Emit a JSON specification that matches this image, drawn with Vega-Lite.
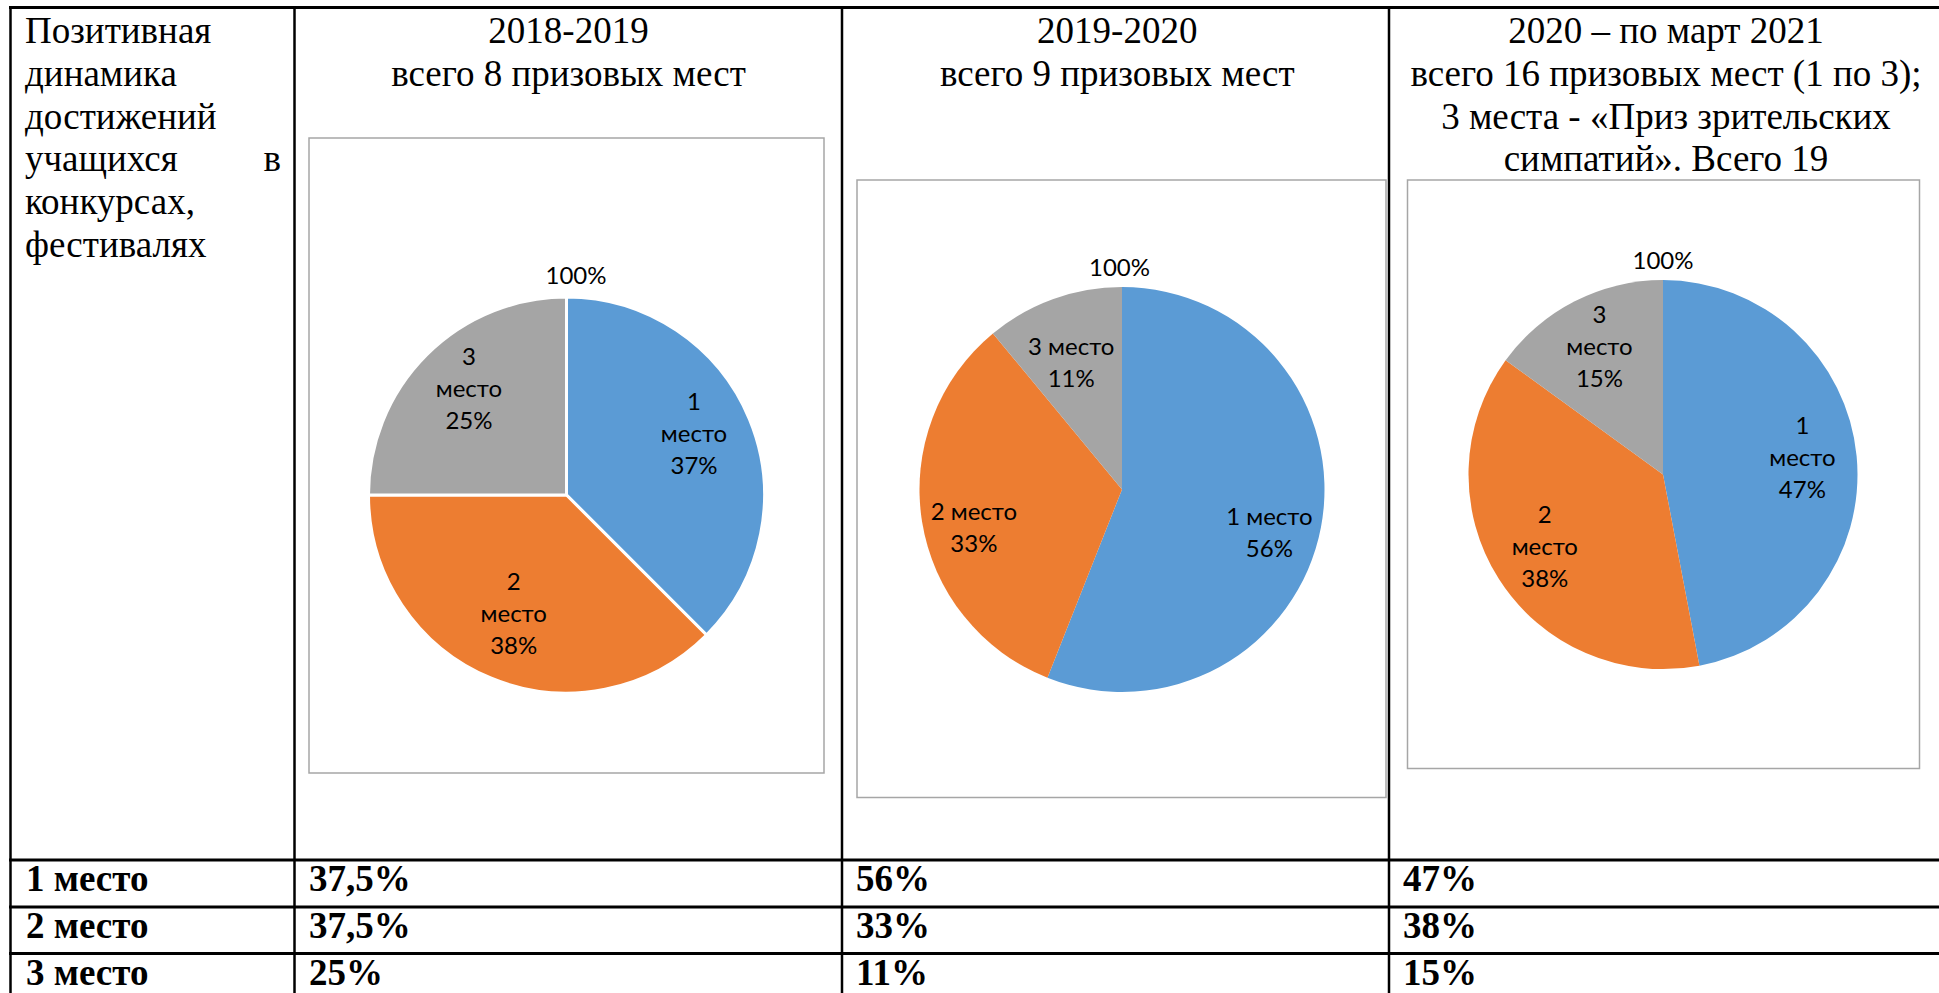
{
  "$schema": "https://vega.github.io/schema/vega-lite/v6.json",
  "width": 1939,
  "height": 993,
  "autosize": {"type": "fit", "contains": "padding"},
  "padding": 0,
  "background": "white",
  "config": {"view": {"stroke": null}},
  "datasets": {
    "pies": [
      {"period": "2018-2019", "place": "1 место", "share": 37.5, "label": "1\nместо\n37%"},
      {"period": "2018-2019", "place": "2 место", "share": 37.5, "label": "2\nместо\n38%"},
      {"period": "2018-2019", "place": "3 место", "share": 25, "label": "3\nместо\n25%"},
      {"period": "2019-2020", "place": "1 место", "share": 56, "label": "1 место\n56%"},
      {"period": "2019-2020", "place": "2 место", "share": 33, "label": "2 место\n33%"},
      {"period": "2019-2020", "place": "3 место", "share": 11, "label": "3 место\n11%"},
      {"period": "2020-2021", "place": "1 место", "share": 47, "label": "1\nместо\n47%"},
      {"period": "2020-2021", "place": "2 место", "share": 38, "label": "2\nместо\n38%"},
      {"period": "2020-2021", "place": "3 место", "share": 15, "label": "3\nместо\n15%"}
    ],
    "totals": [
      {"period": "2018-2019", "label": "100%"},
      {"period": "2019-2020", "label": "100%"},
      {"period": "2020-2021", "label": "100%"}
    ],
    "header": [
      {"col": "left", "line": 1, "text": "Позитивная"},
      {"col": "left", "line": 2, "text": "динамика"},
      {"col": "left", "line": 3, "text": "достижений"},
      {"col": "left", "line": 4, "text": "учащихся"},
      {"col": "right", "line": 4, "text": "в"},
      {"col": "left", "line": 5, "text": "конкурсах,"},
      {"col": "left", "line": 6, "text": "фестивалях"},
      {"col": "2018-2019", "line": 1, "text": "2018-2019"},
      {"col": "2018-2019", "line": 2, "text": "всего 8 призовых мест"},
      {"col": "2019-2020", "line": 1, "text": "2019-2020"},
      {"col": "2019-2020", "line": 2, "text": "всего 9 призовых мест"},
      {"col": "2020-2021", "line": 1, "text": "2020 – по март 2021"},
      {"col": "2020-2021", "line": 2, "text": "всего 16 призовых мест (1 по 3);"},
      {"col": "2020-2021", "line": 3, "text": "3 места - «Приз зрительских"},
      {"col": "2020-2021", "line": 4, "text": "симпатий». Всего 19"}
    ],
    "table": [
      {"period": "2018-2019", "place": "1 место", "value": "37,5%"},
      {"period": "2018-2019", "place": "2 место", "value": "37,5%"},
      {"period": "2018-2019", "place": "3 место", "value": "25%"},
      {"period": "2019-2020", "place": "1 место", "value": "56%"},
      {"period": "2019-2020", "place": "2 место", "value": "33%"},
      {"period": "2019-2020", "place": "3 место", "value": "11%"},
      {"period": "2020-2021", "place": "1 место", "value": "47%"},
      {"period": "2020-2021", "place": "2 место", "value": "38%"},
      {"period": "2020-2021", "place": "3 место", "value": "15%"}
    ]
  },
  "resolve": {"scale": {"x": "independent", "y": "independent"}},
  "layer": [
    {
      "data": {"values": [{}]},
      "layer": [
        {"mark": {"type": "rule", "stroke": "#000000", "strokeWidth": 3}, "encoding": {"x": {"datum": 9, "type": "quantitative", "scale": {"domain": [0, 1939], "range": [0, 1939], "nice": false, "zero": false}, "axis": null}, "x2": {"datum": 1939}, "y": {"datum": 7.5, "type": "quantitative", "scale": {"domain": [0, 993], "range": [0, 993], "nice": false, "zero": false}, "axis": null}}},
        {"mark": {"type": "rule", "stroke": "#000000", "strokeWidth": 3}, "encoding": {"x": {"datum": 9, "type": "quantitative", "scale": {"domain": [0, 1939], "range": [0, 1939], "nice": false, "zero": false}, "axis": null}, "x2": {"datum": 1939}, "y": {"datum": 860, "type": "quantitative", "scale": {"domain": [0, 993], "range": [0, 993], "nice": false, "zero": false}, "axis": null}}},
        {"mark": {"type": "rule", "stroke": "#000000", "strokeWidth": 3}, "encoding": {"x": {"datum": 9, "type": "quantitative", "scale": {"domain": [0, 1939], "range": [0, 1939], "nice": false, "zero": false}, "axis": null}, "x2": {"datum": 1939}, "y": {"datum": 907, "type": "quantitative", "scale": {"domain": [0, 993], "range": [0, 993], "nice": false, "zero": false}, "axis": null}}},
        {"mark": {"type": "rule", "stroke": "#000000", "strokeWidth": 3}, "encoding": {"x": {"datum": 9, "type": "quantitative", "scale": {"domain": [0, 1939], "range": [0, 1939], "nice": false, "zero": false}, "axis": null}, "x2": {"datum": 1939}, "y": {"datum": 953.5, "type": "quantitative", "scale": {"domain": [0, 993], "range": [0, 993], "nice": false, "zero": false}, "axis": null}}},
        {"mark": {"type": "rule", "stroke": "#000000", "strokeWidth": 2.5}, "encoding": {"x": {"datum": 10.5, "type": "quantitative", "scale": {"domain": [0, 1939], "range": [0, 1939], "nice": false, "zero": false}, "axis": null}, "y": {"datum": 7, "type": "quantitative", "scale": {"domain": [0, 993], "range": [0, 993], "nice": false, "zero": false}, "axis": null}, "y2": {"datum": 993}}},
        {"mark": {"type": "rule", "stroke": "#000000", "strokeWidth": 2.5}, "encoding": {"x": {"datum": 294.5, "type": "quantitative", "scale": {"domain": [0, 1939], "range": [0, 1939], "nice": false, "zero": false}, "axis": null}, "y": {"datum": 7, "type": "quantitative", "scale": {"domain": [0, 993], "range": [0, 993], "nice": false, "zero": false}, "axis": null}, "y2": {"datum": 993}}},
        {"mark": {"type": "rule", "stroke": "#000000", "strokeWidth": 2.5}, "encoding": {"x": {"datum": 842, "type": "quantitative", "scale": {"domain": [0, 1939], "range": [0, 1939], "nice": false, "zero": false}, "axis": null}, "y": {"datum": 7, "type": "quantitative", "scale": {"domain": [0, 993], "range": [0, 993], "nice": false, "zero": false}, "axis": null}, "y2": {"datum": 993}}},
        {"mark": {"type": "rule", "stroke": "#000000", "strokeWidth": 2.5}, "encoding": {"x": {"datum": 1389, "type": "quantitative", "scale": {"domain": [0, 1939], "range": [0, 1939], "nice": false, "zero": false}, "axis": null}, "y": {"datum": 7, "type": "quantitative", "scale": {"domain": [0, 993], "range": [0, 993], "nice": false, "zero": false}, "axis": null}, "y2": {"datum": 993}}},
        {"mark": {"type": "rect", "filled": false, "stroke": "#a6a6a6", "strokeWidth": 1.5}, "encoding": {"x": {"datum": 309, "type": "quantitative", "scale": {"domain": [0, 1939], "range": [0, 1939], "nice": false, "zero": false}, "axis": null}, "x2": {"datum": 824}, "y": {"datum": 138, "type": "quantitative", "scale": {"domain": [0, 993], "range": [0, 993], "nice": false, "zero": false}, "axis": null}, "y2": {"datum": 773}}},
        {"mark": {"type": "rect", "filled": false, "stroke": "#a6a6a6", "strokeWidth": 1.5}, "encoding": {"x": {"datum": 857, "type": "quantitative", "scale": {"domain": [0, 1939], "range": [0, 1939], "nice": false, "zero": false}, "axis": null}, "x2": {"datum": 1386}, "y": {"datum": 180, "type": "quantitative", "scale": {"domain": [0, 993], "range": [0, 993], "nice": false, "zero": false}, "axis": null}, "y2": {"datum": 797.5}}},
        {"mark": {"type": "rect", "filled": false, "stroke": "#a6a6a6", "strokeWidth": 1.5}, "encoding": {"x": {"datum": 1407.5, "type": "quantitative", "scale": {"domain": [0, 1939], "range": [0, 1939], "nice": false, "zero": false}, "axis": null}, "x2": {"datum": 1919.5}, "y": {"datum": 180, "type": "quantitative", "scale": {"domain": [0, 993], "range": [0, 993], "nice": false, "zero": false}, "axis": null}, "y2": {"datum": 768.5}}}
      ]
    },
    {
      "data": {"name": "pies"},
      "transform": [{"filter": "datum.period === '2018-2019'"}],
      "encoding": {
        "x": {"datum": 566.5, "type": "quantitative", "scale": {"domain": [0, 1939], "range": [0, 1939], "nice": false, "zero": false}, "axis": null},
        "y": {"datum": 495, "type": "quantitative", "scale": {"domain": [0, 993], "range": [0, 993], "nice": false, "zero": false}, "axis": null}
      },
      "layer": [
        {"mark": {"type": "arc", "outerRadius": 198, "stroke": "#ffffff", "strokeWidth": 3},
         "encoding": {"theta": {"field": "share", "type": "quantitative", "stack": true},
                      "color": {"field": "place", "type": "nominal", "scale": {"domain": ["1 место", "2 место", "3 место"], "range": ["#5b9bd5", "#ed7d31", "#a5a5a5"]}, "legend": null},
                      "order": {"field": "place", "type": "ordinal"}}},
        {"mark": {"type": "text", "radius": 138, "dy": -39, "font": "Lato", "fontSize": 24, "lineHeight": 32, "lineBreak": "\n", "color": "#000000"},
         "encoding": {"theta": {"field": "share", "type": "quantitative", "stack": true},
                      "detail": {"field": "place"},
                      "order": {"field": "place", "type": "ordinal"},
                      "text": {"field": "label"}}}
      ]
    },
    {
      "data": {"name": "pies"},
      "transform": [{"filter": "datum.period === '2019-2020'"}],
      "encoding": {
        "x": {"datum": 1122, "type": "quantitative", "scale": {"domain": [0, 1939], "range": [0, 1939], "nice": false, "zero": false}, "axis": null},
        "y": {"datum": 489.5, "type": "quantitative", "scale": {"domain": [0, 993], "range": [0, 993], "nice": false, "zero": false}, "axis": null}
      },
      "layer": [
        {"mark": {"type": "arc", "outerRadius": 202.5},
         "encoding": {"theta": {"field": "share", "type": "quantitative", "stack": true},
                      "color": {"field": "place", "type": "nominal", "scale": {"domain": ["1 место", "2 место", "3 место"], "range": ["#5b9bd5", "#ed7d31", "#a5a5a5"]}, "legend": null},
                      "order": {"field": "place", "type": "ordinal"}}},
        {"mark": {"type": "text", "radius": 150, "dy": 0, "font": "Lato", "fontSize": 24, "lineHeight": 32, "lineBreak": "\n", "color": "#000000"},
         "encoding": {"theta": {"field": "share", "type": "quantitative", "stack": true},
                      "detail": {"field": "place"},
                      "order": {"field": "place", "type": "ordinal"},
                      "text": {"field": "label"}}}
      ]
    },
    {
      "data": {"name": "pies"},
      "transform": [{"filter": "datum.period === '2020-2021'"}],
      "encoding": {
        "x": {"datum": 1663, "type": "quantitative", "scale": {"domain": [0, 1939], "range": [0, 1939], "nice": false, "zero": false}, "axis": null},
        "y": {"datum": 474.6, "type": "quantitative", "scale": {"domain": [0, 993], "range": [0, 993], "nice": false, "zero": false}, "axis": null}
      },
      "layer": [
        {"mark": {"type": "arc", "outerRadius": 194.5},
         "encoding": {"theta": {"field": "share", "type": "quantitative", "stack": true},
                      "color": {"field": "place", "type": "nominal", "scale": {"domain": ["1 место", "2 место", "3 место"], "range": ["#5b9bd5", "#ed7d31", "#a5a5a5"]}, "legend": null},
                      "order": {"field": "place", "type": "ordinal"}}},
        {"mark": {"type": "text", "radius": 140, "dy": -34, "font": "Lato", "fontSize": 24, "lineHeight": 32, "lineBreak": "\n", "color": "#000000"},
         "encoding": {"theta": {"field": "share", "type": "quantitative", "stack": true},
                      "detail": {"field": "place"},
                      "order": {"field": "place", "type": "ordinal"},
                      "text": {"field": "label"}}}
      ]
    },
    {
      "data": {"name": "totals"},
      "mark": {"type": "text", "font": "Lato", "fontSize": 24, "baseline": "alphabetic", "color": "#000000"},
      "encoding": {
        "x": {"field": "period", "type": "nominal", "scale": {"type": "point", "domain": ["2018-2019", "2019-2020", "2020-2021"], "range": [576, 1663], "padding": 0}, "axis": null},
        "y": {"field": "period", "type": "nominal", "scale": {"type": "point", "domain": ["2018-2019", "2019-2020", "2020-2021"], "range": [284, 268.5], "padding": 0}, "axis": null},
        "text": {"field": "label"}
      }
    },
    {
      "data": {"name": "header"},
      "transform": [{"filter": "datum.col === 'left'"}],
      "mark": {"type": "text", "align": "left", "baseline": "alphabetic", "font": "Liberation Serif", "fontSize": 37, "color": "#000000"},
      "encoding": {
        "x": {"datum": 25, "type": "quantitative", "scale": {"domain": [0, 1939], "range": [0, 1939], "nice": false, "zero": false}, "axis": null},
        "y": {"field": "line", "type": "quantitative", "scale": {"domain": [1, 6], "range": [43, 257], "nice": false, "zero": false}, "axis": null},
        "text": {"field": "text"}
      }
    },
    {
      "data": {"name": "header"},
      "transform": [{"filter": "datum.col === 'right'"}],
      "mark": {"type": "text", "align": "right", "baseline": "alphabetic", "font": "Liberation Serif", "fontSize": 37, "color": "#000000"},
      "encoding": {
        "x": {"datum": 281, "type": "quantitative", "scale": {"domain": [0, 1939], "range": [0, 1939], "nice": false, "zero": false}, "axis": null},
        "y": {"field": "line", "type": "quantitative", "scale": {"domain": [1, 6], "range": [43, 257], "nice": false, "zero": false}, "axis": null},
        "text": {"field": "text"}
      }
    },
    {
      "data": {"name": "header"},
      "transform": [{"filter": "datum.col !== 'left' && datum.col !== 'right'"}],
      "mark": {"type": "text", "align": "center", "baseline": "alphabetic", "font": "Liberation Serif", "fontSize": 37, "color": "#000000"},
      "encoding": {
        "x": {"field": "col", "type": "nominal", "scale": {"type": "point", "domain": ["2018-2019", "2019-2020", "2020-2021"], "range": [568.5, 1666], "padding": 0}, "axis": null},
        "y": {"field": "line", "type": "quantitative", "scale": {"domain": [1, 6], "range": [43, 257], "nice": false, "zero": false}, "axis": null},
        "text": {"field": "text"}
      }
    },
    {
      "data": {"name": "table"},
      "transform": [{"filter": "datum.period === '2018-2019'"}],
      "mark": {"type": "text", "align": "left", "baseline": "alphabetic", "font": "Liberation Serif", "fontSize": 37, "fontWeight": "bold", "color": "#000000"},
      "encoding": {
        "x": {"datum": 26, "type": "quantitative", "scale": {"domain": [0, 1939], "range": [0, 1939], "nice": false, "zero": false}, "axis": null},
        "y": {"field": "place", "type": "nominal", "scale": {"type": "point", "domain": ["1 место", "2 место", "3 место"], "range": [891, 985], "padding": 0}, "axis": null},
        "text": {"field": "place"}
      }
    },
    {
      "data": {"name": "table"},
      "mark": {"type": "text", "align": "left", "baseline": "alphabetic", "font": "Liberation Serif", "fontSize": 37, "fontWeight": "bold", "color": "#000000"},
      "encoding": {
        "x": {"field": "period", "type": "nominal", "scale": {"type": "point", "domain": ["2018-2019", "2019-2020", "2020-2021"], "range": [309, 1403], "padding": 0}, "axis": null},
        "y": {"field": "place", "type": "nominal", "scale": {"type": "point", "domain": ["1 место", "2 место", "3 место"], "range": [891, 985], "padding": 0}, "axis": null},
        "text": {"field": "value"}
      }
    }
  ]
}
